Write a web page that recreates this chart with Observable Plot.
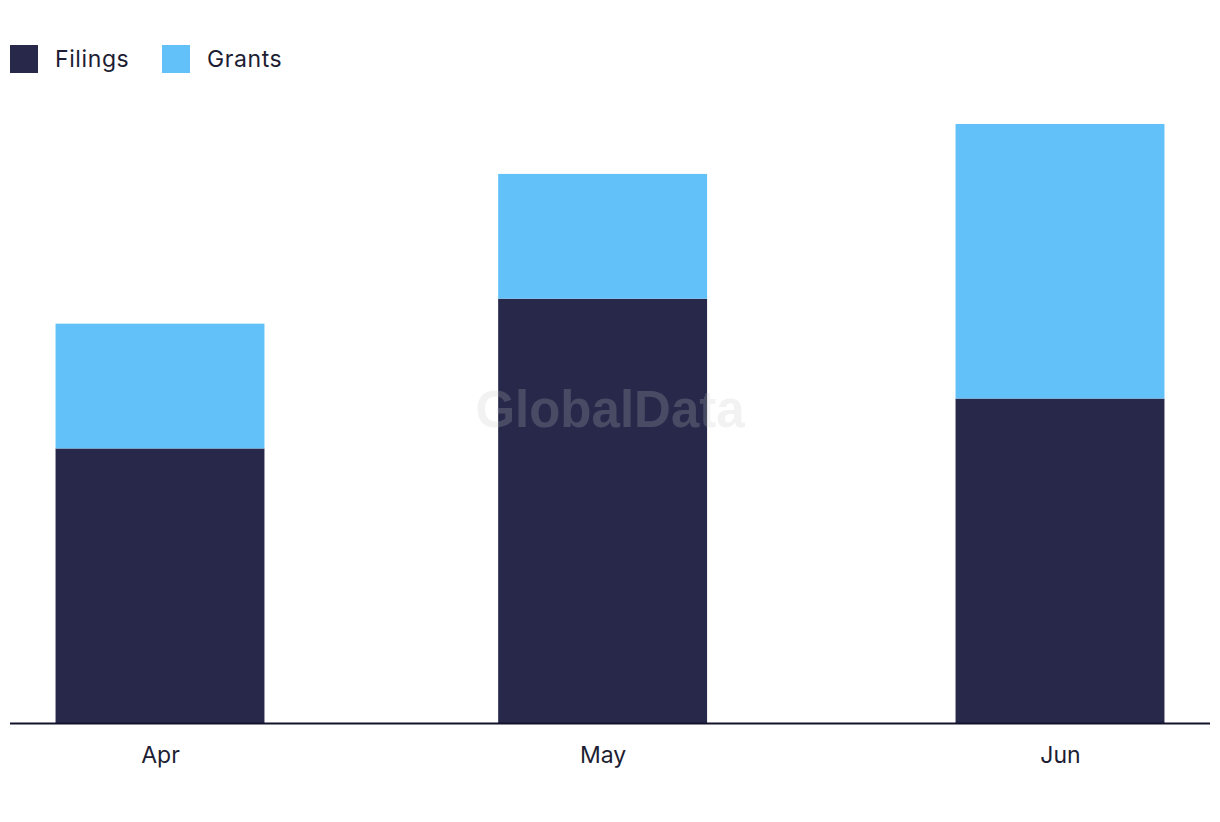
<!DOCTYPE html>
<html>
<head>
<meta charset="utf-8">
<script src="https://cdn.jsdelivr.net/npm/d3@7"></script>
<script src="https://cdn.jsdelivr.net/npm/@observablehq/plot@0.6"></script>
<style>
  html, body { margin: 0; padding: 0; background: #fff; }
  body { width: 1220px; height: 822px; position: relative; overflow: hidden; font-family: Inter, "Noto Sans", sans-serif; }
  #legend { height: 100px; position: relative; }
  .item { position: absolute; top: 45px; display: flex; align-items: center; font-size: 23px; letter-spacing: 0.6px; color: #1d1d33; }
  .sw { width: 28px; height: 28px; margin-right: 17px; }
  #wm { position: absolute; left: 0; width: 1220px; top: 380px; text-align: center; font-family: "Liberation Sans", Arial, sans-serif; font-weight: bold; font-size: 51px; color: #c7c7c7; opacity: 0.21; pointer-events: none; }
</style>
</head>
<body>
<div id="legend"></div>
<div id="chart"></div>
<div id="wm">GlobalData</div>
<script>
const months = ["2023-04-01", "2023-05-01", "2023-06-01"];
const monthLabels = ["Apr", "May", "Jun"];
const seriesNames = ["Filings", "Grants"];
const filings = [11, 17, 13];
const grants = [5, 5, 11];
const colors = ["#27284a", "#62c1f9"];

const DAY = 864e5;
const data = [];
months.forEach((m, i) => {
  const date = new Date(m);
  data.push({date, series: "Filings", value: filings[i]});
  data.push({date, series: "Grants", value: grants[i]});
});

// legend
const legend = document.getElementById("legend");
const legendX = [10, 162];
seriesNames.forEach((s, i) => {
  const d = document.createElement("div");
  d.className = "item";
  d.style.left = legendX[i] + "px";
  d.innerHTML = `<div class="sw" style="background:${colors[i]}"></div><span>${s}</span>`;
  legend.appendChild(d);
});

const chart = Plot.plot({
  width: 1220,
  height: 722,
  marginTop: 24,
  marginBottom: 99,
  marginLeft: 10,
  marginRight: 10,
  style: {fontFamily: "Inter, 'Noto Sans', sans-serif", fontSize: "23px", color: "#1d1d33", background: "#fff"},
  x: {type: "utc", domain: [new Date(Date.UTC(2023, 2, 21, 20)), new Date(Date.UTC(2023, 5, 11, 4))], axis: null},
  y: {domain: [0, 24], axis: null},
  color: {domain: seriesNames, range: colors},
  marks: [
    Plot.rectY(data, Plot.stackY({
      x: "date",
      x1: d => new Date(+d.date - 7.08 * DAY),
      x2: d => new Date(+d.date + 7.08 * DAY),
      y: "value",
      fill: "series",
      order: seriesNames
    })),
    Plot.ruleY([0], {stroke: "#12122a", strokeWidth: 2}),
    Plot.text(months.map((m, i) => ({date: new Date(m), label: monthLabels[i]})), {
      x: "date", y: 0, text: "label", dy: 32, fill: "#1d1d33", fontSize: 23, letterSpacing: 0.5
    })
  ]
});
document.getElementById("chart").appendChild(chart);
</script>
</body>
</html>
